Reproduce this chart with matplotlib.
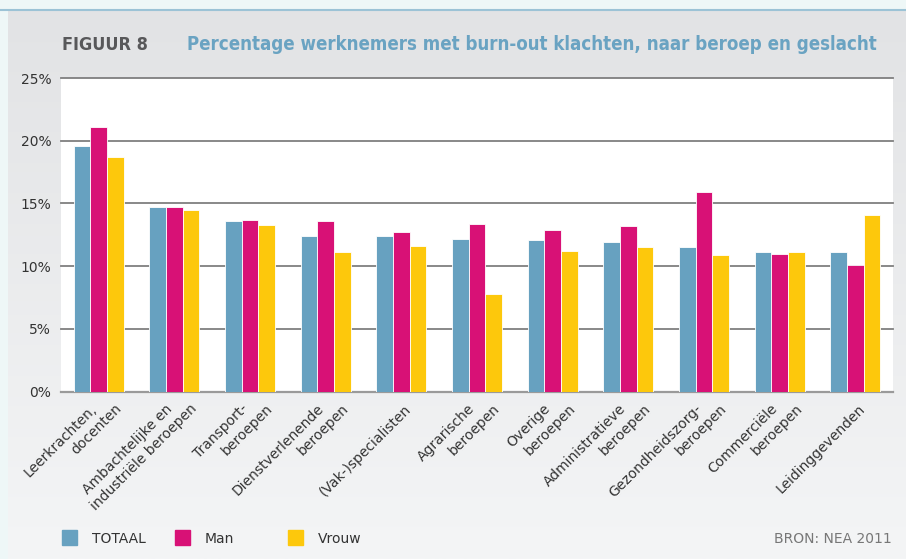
import numpy as np
import matplotlib
matplotlib.use('Agg')
import matplotlib.pyplot as plt
from matplotlib import font_manager
from matplotlib.transforms import ScaledTranslation
from matplotlib.patches import Rectangle

# data
beroepen = ['Leerkrachten,\ndocenten', 'Ambachtelijke en\nindustriële beroepen',
            'Transport-\nberoepen', 'Dienstverlenende\nberoepen', '(Vak-)specialisten',
            'Agrarische\nberoepen', 'Overige\nberoepen', 'Administratieve\nberoepen',
            'Gezondheidszorg-\nberoepen', 'Commerciële\nberoepen', 'Leidinggevenden']
totaal = [19.6, 14.7, 13.6, 12.4, 12.4, 12.2, 12.1, 11.9, 11.5, 11.1, 11.1]
man = [21.1, 14.7, 13.7, 13.6, 12.7, 13.4, 12.9, 13.2, 15.9, 11.0, 10.1]
vrouw = [18.7, 14.5, 13.3, 11.1, 11.6, 7.8, 11.2, 11.5, 10.9, 11.1, 14.1]
reeksen = ['TOTAAL', 'Man', 'Vrouw']
kleuren = ['#67a1c0', '#d81176', '#fdc80c']
yticks = [0, 5, 10, 15, 20, 25]

# a condensed bold face for the title if one is installed
cond = [f for f in font_manager.fontManager.ttflist
        if any(k in f.fname.lower() for k in ('condensed', 'narrow'))
        and 'semi' not in f.fname.lower() and 'extra' not in f.fname.lower()
        and f.weight in (700, 'bold')]
if cond:
    titel_fp = font_manager.FontProperties(fname=cond[0].fname)
else:
    titel_fp = font_manager.FontProperties(family='Roboto', weight='bold')

fig = plt.figure(figsize=(9.06, 5.59), dpi=100)
fig.patch.set_facecolor('#eef7f7')

# grey gradient panel behind the chart
bg = fig.add_axes([8/906, 0, 1 - 8/906, 1 - 10/559])
grad = np.linspace(0, 1, 256).reshape(-1, 1)
bg.imshow(grad, aspect='auto', cmap=matplotlib.colors.LinearSegmentedColormap.from_list(
    'g', ['#e2e3e5', '#f4f5f6']), extent=[0, 1, 0, 1])
bg.set_axis_off()
fig.add_artist(plt.Line2D([0, 1], [1 - 9.5/559]*2, color='#9cc3d6', lw=1.5))

ax = fig.add_axes([61/906, 1 - 391.7/559, (893 - 61)/906, (391.7 - 78)/559])
ax.set_facecolor('white')

x = np.arange(len(beroepen))
w = 0.22
for k, (vals, c) in enumerate(zip([totaal, man, vrouw], kleuren)):
    ax.bar(x + (k - 1)*w, vals, w, color=c, edgecolor='white', linewidth=0.6, zorder=3)

ax.set_xlim(-0.5, len(beroepen) - 0.5)
ax.set_ylim(0, 25)
ax.set_yticks(yticks)
ax.set_yticklabels([f'{v}%' for v in yticks], fontsize=10, color='#333333')
ax.tick_params(axis='y', length=0, pad=7)
ax.set_xticks([])
for v in yticks[1:]:
    ax.axhline(v, color='#7f7f7f', lw=1.3, zorder=1, clip_on=False)
for s in ['top', 'right', 'left']:
    ax.spines[s].set_visible(False)
ax.spines['bottom'].set_color('#9a9a9a')
ax.spines['bottom'].set_linewidth(1.6)

# rotated category labels, each line placed on its own
base = ax.get_xaxis_transform()
for i, lab in enumerate(beroepen):
    lines = lab.split('\n')
    n = len(lines)
    for j, line in enumerate(lines):
        dx = 3 + (j - (n - 1)/2)*25
        tr = base + ScaledTranslation(dx/100, -10/100, fig.dpi_scale_trans)
        ax.text(i, 0, line, transform=tr, rotation=45, rotation_mode='anchor',
                ha='right', va='top', fontsize=10, color='#333333')

# title, blue part fitted to the width it has in the reference
t1 = fig.text(62/906, 1 - 50/559, 'FIGUUR 8', fontproperties=titel_fp,
              color='#58585a', va='baseline')
t2 = fig.text(187/906, 1 - 50/559,
              'Percentage werknemers met burn-out klachten, naar beroep en geslacht',
              fontproperties=titel_fp, color='#6aa3c2', va='baseline')
t1.set_fontsize(15)
t2.set_fontsize(15)
r = fig.canvas.get_renderer()
w2 = t2.get_window_extent(r).width
size = min(16, 15*693/w2)
t2.set_fontsize(size)
w1 = t1.get_window_extent(r).width
t1.set_fontsize(min(16, 15*86/w1))

# legend
lx = [62, 175, 288]
for px, naam, c in zip(lx, reeksen, kleuren):
    fig.add_artist(Rectangle((px/906, 1 - 545/559), 15/906, 15/559, color=c,
                             transform=fig.transFigure))
    fig.text((px + 30)/906, 1 - 539/559, naam, fontsize=10, color='#333333', va='center')

fig.text(892/906, 1 - 539/559, 'BRON: NEA 2011', fontsize=10, color='#777777',
         ha='right', va='center')

plt.savefig('out.png', dpi=100, facecolor=fig.get_facecolor())
